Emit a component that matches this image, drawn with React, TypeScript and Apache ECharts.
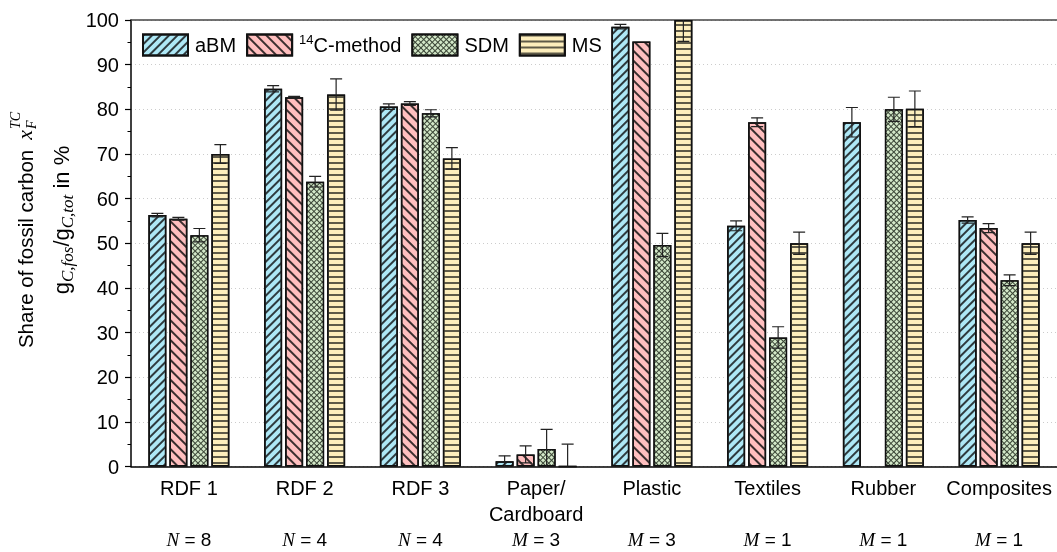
import React, { useEffect, useRef } from "react";
import * as echarts from "echarts";

const categories = ["RDF 1", "RDF 2", "RDF 3", "Paper/\nCardboard", "Plastic", "Textiles", "Rubber", "Composites"];
const sampleSymbol = ["N", "N", "N", "M", "M", "M", "M", "M"];
const sampleCount = [8, 4, 4, 3, 3, 1, 1, 1];

const seriesNames = ["aBM", "14C-method", "SDM", "MS"];
const aBM = [56.3, 84.6, 80.6, 1.2, 98.5, 53.9, 77.1, 55.2];
const aBMErr = [0.4, 0.7, 0.6, 1.2, 0.5, 1.1, 3.3, 0.7];
const c14 = [55.5, 82.7, 81.3, 2.7, 95.2, 77.1, null, 53.4];
const c14Err = [0.3, 0.2, 0.4, 1.9, null, 1.0, null, 1.0];
const sdm = [51.8, 63.8, 79.1, 3.9, 49.6, 28.9, 80.0, 41.7];
const sdmErr = [1.5, 1.2, 0.8, 4.4, 2.6, 2.4, 2.7, 1.2];
const ms = [70.0, 83.3, 69.0, 0, 100, 50.0, 80.1, 50.0];
const msErr = [2.1, 3.5, 2.4, 5.0, 4.8, 2.5, 4.0, 2.5];

const yTicks = { min: 0, max: 100, interval: 10 };

const SANS = "Liberation Sans";
const SERIF = "Liberation Serif";

function measure(text: string, font: string): number {
  const c = document.createElement("canvas").getContext("2d");
  if (!c) return text.length * 10;
  c.font = font;
  return c.measureText(text).width;
}

export default function App() {
  const ref = useRef<HTMLDivElement>(null);

  useEffect(() => {
    if (!ref.current) return;
    const chart = echarts.init(ref.current, null, { renderer: "svg" });

    const values = [aBM, c14, sdm, ms];
    const errs = [aBMErr, c14Err, sdmErr, msErr];
    const fills = ["#aee8f6", "#ffbfbf", "#d3e8c8", "#fdeebc"];
    const decals: any[] = [
      { symbol: "rect", dashArrayX: [1, 0], dashArrayY: [1.3, 3.4], rotation: -Math.PI / 4, color: "#2e3a3e" },
      { symbol: "rect", dashArrayX: [1, 0], dashArrayY: [1.2, 4.8], rotation: Math.PI / 4, color: "#3a2e2e" },
      { symbol: "rect", dashArrayX: [3, 1], dashArrayY: [3, 1], rotation: Math.PI / 4, color: "#d3e8c8" },
      { symbol: "rect", dashArrayX: [1, 0], dashArrayY: [1.2, 3.6], rotation: 0, color: "#5e5a48" },
    ];
    const barW = 18;
    const gap = 3;
    const offsets = [0, 1, 2, 3].map((i) => (i - 1.5) * (barW + gap));

    const barSeries = values.map((vals, i) => ({
      name: seriesNames[i],
      type: "bar",
      data: vals.map((v) => (v === null ? "-" : v)),
      barWidth: barW,
      barGap: (gap / barW) * 100 + "%",
      itemStyle: {
        color: i === 2 ? "#3a4536" : fills[i],
        borderColor: "#111",
        borderWidth: 1.5,
        decal: decals[i],
      },
      z: 2,
    }));

    const errSeries = errs.map((ee, i) => ({
      type: "custom",
      name: seriesNames[i] + " err",
      clip: true,
      z: 5,
      data: ee.map((e, ci) => [ci, values[i][ci] === null ? NaN : values[i][ci], e === null ? NaN : e]),
      renderItem: (params: any, api: any) => {
        const ci = api.value(0);
        const v = api.value(1);
        const e = api.value(2);
        if (isNaN(v) || isNaN(e)) return null;
        const top = api.coord([ci, v + e]);
        const bot = api.coord([ci, v - e]);
        const x = top[0] + offsets[i];
        const hw = 6;
        const st = { stroke: "#222", lineWidth: 1.2 };
        return {
          type: "group",
          children: [
            { type: "line", shape: { x1: x, y1: top[1], x2: x, y2: bot[1] }, style: st },
            { type: "line", shape: { x1: x - hw, y1: top[1], x2: x + hw, y2: top[1] }, style: st },
            { type: "line", shape: { x1: x - hw, y1: bot[1], x2: x + hw, y2: bot[1] }, style: st },
          ],
        };
      },
    }));

    // y-axis title (rotated)
    const f1 = 20.5;
    const mainTxt = "Share of fossil carbon";
    const w1 = measure(mainTxt, `${f1}px "${SANS}"`);
    const wx = measure("x", `italic 22px "${SERIF}"`);
    const wF = measure("F", `italic 14px "${SERIF}"`);
    const wTC = measure("TC", `italic 14px "${SERIF}"`);
    const g1 = 10;
    const total = w1 + g1 + wx + 1 + Math.max(wF, wTC);
    const s0 = -total / 2;

    const option: any = {
      animation: false,
      grid: { left: 131, top: 20, width: 928, bottom: 84, containLabel: false },
      legend: {
        data: seriesNames,
        left: 142,
        top: 33,
        padding: 0,
        itemWidth: 45,
        itemHeight: 21,
        itemGap: 10,
        icon: "rect",
        textStyle: {
          fontSize: 20,
          fontFamily: SANS,
          color: "#000",
          padding: [0, 0, 0, 2],
          rich: {
            sup: { fontSize: 13, fontFamily: SANS, color: "#000", verticalAlign: "top", lineHeight: 24 },
            t: { fontSize: 20, fontFamily: SANS, color: "#000", lineHeight: 24 },
          },
        },
        formatter: (name: string) => (name === "14C-method" ? "{sup|14}{t|C-method}" : name),
      },
      xAxis: [
        {
          type: "category",
          data: categories,
          axisLine: { lineStyle: { color: "#000", width: 1.5 } },
          axisTick: { length: 8, lineStyle: { color: "#000", width: 1.2 } },
          axisLabel: {
            interval: 0,
            margin: 9,
            color: "#000",
            fontSize: 20,
            fontFamily: SANS,
            lineHeight: 25.5,
            formatter: (value: string, idx: number) => {
              const parts = value.split("\n");
              const head = parts.map((p) => `{c|${p}}`).join("\n");
              const pad = parts.length === 1 ? "\n{c| }" : "";
              return `${head}${pad}\n{it|${sampleSymbol[idx]}}{eq| = ${sampleCount[idx]}}`;
            },
            rich: {
              c: { fontSize: 20, fontFamily: SANS, color: "#000", lineHeight: 25.5 },
              it: { fontSize: 19, fontFamily: SERIF, fontStyle: "italic", color: "#000", lineHeight: 25.5 },
              eq: { fontSize: 19, fontFamily: SANS, color: "#000", lineHeight: 25.5 },
            },
          },
          splitLine: { show: false },
        },
        {
          type: "category",
          data: categories,
          position: "top",
          axisLine: { lineStyle: { color: "#444", width: 1.5 } },
          axisTick: { show: false },
          axisLabel: { show: false },
        },
      ],
      yAxis: {
        type: "value",
        min: yTicks.min,
        max: yTicks.max,
        interval: yTicks.interval,
        axisLine: { show: true, lineStyle: { color: "#000", width: 1.5 } },
        axisTick: { show: true, length: 6, lineStyle: { color: "#000", width: 1.2 } },
        minorTick: { show: true, splitNumber: 2, length: 3.5, lineStyle: { color: "#000", width: 1 } },
        axisLabel: { margin: 12, fontSize: 20, fontFamily: SANS, color: "#000" },
        splitLine: { show: true, lineStyle: { type: [1, 3], color: "#cccccc", width: 1 } },
      },
      series: [...barSeries, ...errSeries],
      graphic: [
        {
          type: "group",
          x: 25,
          y: 230,
          rotation: Math.PI / 2,
          children: [
            {
              type: "text",
              x: s0,
              y: 0,
              style: { text: mainTxt, fontSize: f1, fontFamily: SANS, fill: "#000", align: "left", verticalAlign: "middle" },
            },
            {
              type: "text",
              x: s0 + w1 + g1,
              y: -1,
              style: { text: "x", fontSize: 22, fontFamily: SERIF, fontStyle: "italic", fill: "#000", align: "left", verticalAlign: "middle" },
            },
            {
              type: "text",
              x: s0 + w1 + g1 + wx + 1,
              y: 6,
              style: { text: "F", fontSize: 14, fontFamily: SERIF, fontStyle: "italic", fill: "#000", align: "left", verticalAlign: "middle" },
            },
            {
              type: "text",
              x: s0 + w1 + g1 + wx + 1,
              y: -10,
              style: { text: "TC", fontSize: 14, fontFamily: SERIF, fontStyle: "italic", fill: "#000", align: "left", verticalAlign: "middle" },
            },
            {
              type: "text",
              x: 10,
              y: 36,
              style: {
                text: "{n|g}{s|C,fos}{n|/g}{s|C,tot}{n| in %}",
                align: "center",
                verticalAlign: "middle",
                rich: {
                  n: { fontSize: 22, fontFamily: SANS, fill: "#000", lineHeight: 30 },
                  s: { fontSize: 17, fontFamily: SERIF, fontStyle: "italic", fill: "#000", verticalAlign: "bottom" },
                },
              },
            },
          ],
        },
      ],
    };

    chart.setOption(option);
    return () => chart.dispose();
  }, []);

  return <div ref={ref} style={{ position: "fixed", left: 0, top: 0, width: 1057, height: 552 }} />;
}
